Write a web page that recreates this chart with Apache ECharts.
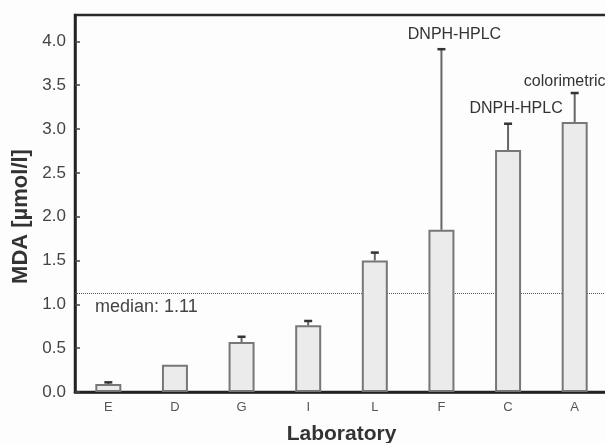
<!DOCTYPE html>
<html><head><meta charset="utf-8">
<script src="https://cdn.jsdelivr.net/npm/echarts@6/dist/echarts.min.js"></script>
<style>html,body{margin:0;padding:0;background:#fdfdfd}#c{width:605px;height:443px}</style>
</head><body><div id="c"></div>
<script>
// ---- data ----
const categories = ['E', 'D', 'G', 'I', 'L', 'F', 'C', 'A'];
const means = [0.09, 0.31, 0.57, 0.76, 1.50, 1.85, 2.76, 3.08];
const upperErrors = [0.11, null, 0.63, 0.81, 1.59, 3.91, 3.06, 3.41];
const methods = ['', '', '', '', '', 'DNPH-HPLC', 'DNPH-HPLC', 'colorimetric'];
const medianValue = [1.13];
const medianText = ['median: 1.11'];
const yMin = 0, yMax = 4.3, yInterval = 0.5;

// ---- styling ----
const labelOffsets = [null, null, null, null, null, [13, -15], [8, -15], [-10, -11]];
const FONT = '"Liberation Sans", Arial, Helvetica, sans-serif';

const errData = categories.map((c, i) => [i, means[i], upperErrors[i]]).filter(d => d[2] != null);

const chart = echarts.init(document.getElementById('c'), null, { renderer: 'canvas' });
chart.setOption({
  backgroundColor: '#fdfdfd',
  animation: false,
  grid: { left: 75, right: -3, top: 15, bottom: 51, containLabel: false, outerBoundsMode: 'none',
    show: true, borderColor: '#2a2a2a', borderWidth: 2.5, backgroundColor: 'transparent' },
  xAxis: {
    type: 'category', data: categories,
    axisLine: { lineStyle: { color: '#222', width: 2.5 } },
    axisTick: { show: false },
    axisLabel: { color: '#555', fontSize: 13, fontFamily: FONT, margin: 9 },
    name: 'Laboratory', nameLocation: 'middle', nameGap: 32,
    nameTextStyle: { fontFamily: FONT, fontWeight: 'bold', fontSize: 21, color: '#333' }
  },
  yAxis: {
    type: 'value', min: yMin, max: yMax, interval: yInterval,
    axisLine: { show: true, lineStyle: { color: '#222', width: 2.5 } },
    axisTick: { show: true, inside: true, length: 5, lineStyle: { color: '#444', width: 1.5 } },
    splitLine: { show: false },
    axisLabel: { color: '#444', fontSize: 17, fontFamily: FONT, margin: 9, showMaxLabel: false, formatter: v => v.toFixed(1) },
    name: 'MDA [µmol/l]', nameLocation: 'middle', nameGap: 42,
    nameTextStyle: { fontFamily: FONT, fontWeight: 'bold', fontSize: 22, color: '#333', padding: [0, 26, 0, 0] }
  },
  series: [
    {
      type: 'line', data: [], z: 1,
      markLine: {
        z: 1, silent: true, symbol: 'none', animation: false,
        data: [{ yAxis: medianValue[0] }],
        lineStyle: { type: 'dotted', color: '#555', width: 1 },
        label: { show: true, position: 'insideStartBottom', formatter: medianText[0], distance: [20, 5],
          fontFamily: FONT, fontSize: 18, color: '#444' }
      }
    },
    {
      type: 'bar', data: means, barWidth: 26, z: 3,
      itemStyle: { color: '#ebebeb', borderColor: '#777', borderWidth: 2 }
    },
    {
      type: 'custom', z: 4, data: errData,
      renderItem: function (params, api) {
        const i = api.value(0);
        const p0 = api.coord([i, api.value(1)]);
        const p1 = api.coord([i, api.value(2)]);
        const children = [
          { type: 'line', shape: { x1: p0[0], y1: p0[1], x2: p1[0], y2: p1[1] }, style: { stroke: '#666', lineWidth: 2 } },
          { type: 'line', shape: { x1: p1[0] - 4, y1: p1[1], x2: p1[0] + 4, y2: p1[1] }, style: { stroke: '#333', lineWidth: 2.5 } }
        ];
        if (methods[i]) {
          const o = labelOffsets[i] || [0, -14];
          children.push({ type: 'text', x: p1[0] + o[0], y: p1[1] + o[1],
            style: { text: methods[i], align: 'center', verticalAlign: 'middle', font: '16px ' + FONT, fill: '#333' } });
        }
        return { type: 'group', children: children };
      }
    }
  ]
});
</script>
</body></html>
